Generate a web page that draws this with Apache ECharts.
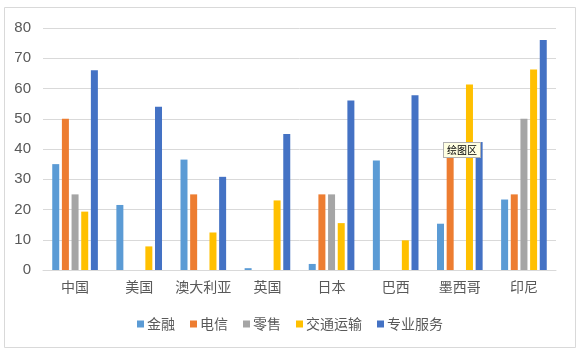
<!DOCTYPE html>
<html>
<head>
<meta charset="utf-8">
<script src="https://cdn.jsdelivr.net/npm/echarts@6/dist/echarts.min.js"></script>
<style>
  html, body { margin: 0; padding: 0; background: #fff; }
  #chart { width: 580px; height: 354px; }
</style>
</head>
<body>
<div id="chart"></div>
<script>
// categories and series
const countries = ['中国', '美国', '澳大利亚', '英国', '日本', '巴西', '墨西哥', '印尼']
const finance = [35, 21.5, 36.5, 0.6, 2, 36.2, 15.3, 23.3]
const telecom = [50, 0, 25, 0, 25, 0, 38.5, 25]
const retail = [25, 0, 0, 0, 25, 0, 0, 50]
const transport = [19.3, 7.8, 12.4, 23, 15.5, 9.8, 61.3, 66.3]
const professional = [66, 54, 30.8, 45, 56, 57.8, 42.3, 76]
const yTicks = [0, 10, 20, 30, 40, 50, 60, 70, 80]

const colors = ['#5b9bd5', '#ed7d31', '#a5a5a5', '#ffc000', '#4472c4']
const names = ['金融', '电信', '零售', '交通运输', '专业服务']
const values = [finance, telecom, retail, transport, professional]

const font = '"Noto Sans CJK SC", "Liberation Sans", sans-serif'

const chart = echarts.init(document.getElementById('chart'))

chart.setOption({
  animation: false,
  textStyle: { fontFamily: font },
  grid: { left: 43, right: 24, top: 28, bottom: 84 },
  legend: {
    data: names,
    bottom: 18,
    left: 'center',
    icon: 'rect',
    itemWidth: 7,
    itemHeight: 7,
    itemGap: 15,
    textStyle: { color: '#595959', fontSize: 14, fontFamily: font, padding: [0, 0, 0, -2] }
  },
  xAxis: {
    type: 'category',
    data: countries,
    axisLine: { lineStyle: { color: '#d9d9d9' } },
    axisTick: { show: false },
    axisLabel: { color: '#595959', fontSize: 14, margin: 10, interval: 0 }
  },
  yAxis: {
    type: 'value',
    min: yTicks[0],
    max: yTicks[yTicks.length - 1],
    interval: 10,
    axisLine: { show: false },
    axisTick: { show: false },
    splitLine: { lineStyle: { color: '#d9d9d9' } },
    axisLabel: { color: '#595959', fontSize: 15, margin: 12, fontFamily: '"Liberation Sans", sans-serif' }
  },
  series: names.map((name, i) => ({
    name,
    type: 'bar',
    data: values[i],
    barWidth: 7,
    barGap: '38%',
    itemStyle: { color: colors[i] }
  })),
  graphic: [
    {
      type: 'rect',
      shape: { x: 4.5, y: 7.5, width: 571, height: 340 },
      style: { fill: 'none', stroke: '#d9d9d9', lineWidth: 1 },
      z: -1
    },
    {
      type: 'text',
      left: 443,
      top: 142,
      z: 100,
      style: {
        text: '绘图区',
        font: '10px "Noto Sans CJK SC"',
        fill: '#000',
        backgroundColor: '#ffffe1',
        borderColor: '#b0b0b0',
        borderWidth: 1,
        padding: [2, 3]
      }
    }
  ]
})
</script>
</body>
</html>
